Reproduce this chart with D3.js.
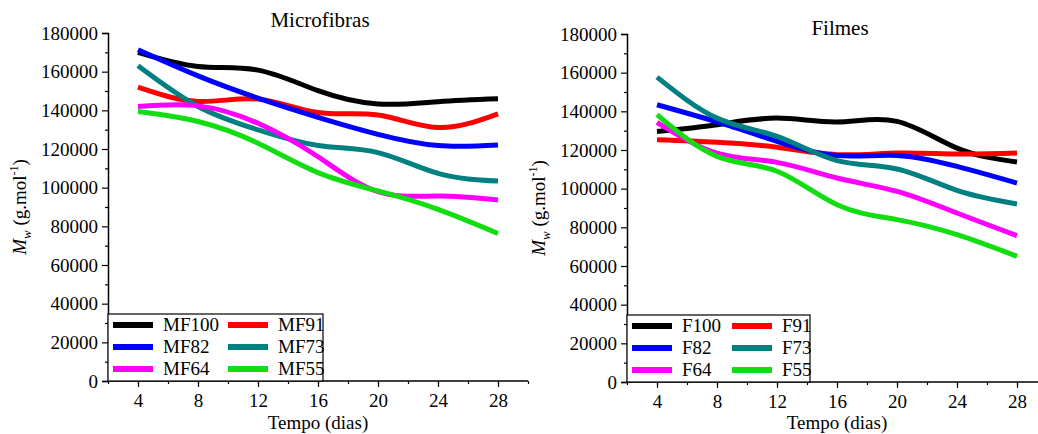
<!DOCTYPE html>
<html>
<head>
<meta charset="utf-8">
<script src="https://cdn.jsdelivr.net/npm/d3@7"></script>
<style>
  body { margin: 0; background: #fff; }
  svg text { font-family: "Liberation Serif", "DejaVu Serif", serif !important; fill: #000; }
</style>
</head>
<body>
<div id="chart"></div>
<script>
// days of measurement
const days = [4, 8, 12, 16, 20, 24, 28];
const xTicks = [4, 8, 12, 16, 20, 24, 28];
const yTicks = [0, 20000, 40000, 60000, 80000, 100000, 120000, 140000, 160000, 180000];

// Microfibras (Mw, g/mol)
const mfNames = ["MF100", "MF91", "MF82", "MF73", "MF64", "MF55"];
const mf100 = [170000, 162700, 160800, 150200, 143300, 144500, 146000];
const mf91  = [152000, 144600, 145800, 138900, 137600, 131100, 138200];
const mf82  = [171300, 157800, 146300, 136400, 127600, 121800, 122100];
const mf73  = [163000, 142000, 129900, 121800, 118100, 107400, 103400];
const mf64  = [142000, 142300, 133300, 116000, 97900, 95700, 93600];
const mf55  = [139400, 134200, 123000, 107800, 98300, 88800, 76300];

// Filmes (Mw, g/mol)
const fNames = ["F100", "F91", "F82", "F73", "F64", "F55"];
const f100 = [129600, 133100, 136500, 134500, 134800, 121000, 113800];
const f91  = [125300, 124000, 121400, 117600, 118400, 117900, 118400];
const f82  = [143400, 134500, 124500, 117100, 117200, 111500, 102900];
const f73  = [157700, 136500, 127000, 114500, 110200, 99100, 92100];
const f64  = [134300, 118400, 113600, 105500, 98600, 87400, 75700];
const f55  = [138300, 116700, 109000, 91700, 84000, 76200, 65000];

const colors = ["#000000", "#ff0000", "#0000ff", "#008080", "#ff00ff", "#11dd11"];

const svg = d3.select("#chart")
  .append("svg")
  .attr("width", 1038)
  .attr("height", 434)
  .attr("font-family", "Liberation Serif");

function drawPanel(p) {
  const x = d3.scaleLinear().domain([2, 30]).range([p.left, p.left + 420]);
  const y = d3.scaleLinear().domain([0, 180000]).range([p.bottom, p.top]);

  const g = svg.append("g");

  // curves
  const line = d3.line()
    .x(d => x(d[0]))
    .y(d => y(d[1]))
    .curve(d3.curveNatural);

  p.series.forEach((s, i) => {
    g.append("path")
      .datum(days.map((d, j) => [d, s[j]]))
      .attr("fill", "none")
      .attr("stroke", colors[i])
      .attr("stroke-width", 5)
      .attr("d", line);
  });

  // x axis
  const xAxis = g.append("g")
    .attr("transform", `translate(0, ${p.bottom})`)
    .call(d3.axisBottom(x).tickValues(xTicks).tickSize(6).tickPadding(5).tickFormat(d3.format("d")));
  g.append("g")
    .attr("transform", `translate(0, ${p.bottom})`)
    .call(d3.axisBottom(x).tickValues(d3.range(2, 31, 2)).tickSize(3).tickFormat(""))
    .select(".domain").remove();

  // y axis
  const yAxis = g.append("g")
    .attr("transform", `translate(${p.left}, 0)`)
    .call(d3.axisLeft(y).tickValues(yTicks).tickSize(6).tickPadding(4).tickFormat(d3.format("d")));
  g.append("g")
    .attr("transform", `translate(${p.left}, 0)`)
    .call(d3.axisLeft(y).tickValues(d3.range(10000, 180000, 20000)).tickSize(3).tickFormat(""))
    .select(".domain").remove();

  g.selectAll("g").attr("font-family", "Liberation Serif");
  g.selectAll(".domain").attr("stroke", "#000").attr("stroke-width", 1.5);
  g.selectAll(".tick line").attr("stroke", "#000").attr("stroke-width", 1.2);
  xAxis.selectAll("text").attr("font-size", 19).attr("dy", "0.8em");
  yAxis.selectAll("text").attr("font-size", 19);
  xAxis.select(".domain").attr("d", `M${p.left},0H${p.left + 420}`);

  // title
  g.append("text")
    .attr("x", p.titleX)
    .attr("y", p.titleY)
    .attr("text-anchor", "middle")
    .attr("font-size", 21)
    .text(p.title);

  // x label
  g.append("text")
    .attr("x", p.left + 210)
    .attr("y", 429)
    .attr("text-anchor", "middle")
    .attr("font-size", 19)
    .text("Tempo (dias)");

  // y label
  const yl = g.append("text")
    .attr("transform", `translate(${p.left - 82}, ${(p.top + p.bottom) / 2}) rotate(-90)`)
    .attr("text-anchor", "middle")
    .attr("font-size", 19);
  yl.append("tspan").attr("font-style", "italic").text("M");
  yl.append("tspan").attr("font-style", "italic").attr("font-size", 13).attr("dy", 5).text("w");
  yl.append("tspan").attr("dy", -5).text(" (g.mol");
  yl.append("tspan").attr("font-size", 12).attr("dy", -8).text("-1");
  yl.append("tspan").attr("dy", 8).text(")");

  // legend
  const lg = g.append("g");
  lg.append("rect")
    .attr("x", p.left)
    .attr("y", p.bottom - 67)
    .attr("width", p.legendW)
    .attr("height", 67)
    .attr("fill", "#fff")
    .attr("stroke", "#000")
    .attr("stroke-width", 1.2);

  p.names.forEach((n, i) => {
    const col = i % 2, row = Math.floor(i / 2);
    const lx = p.left + 5 + col * p.legendCol;
    const ly = p.bottom - 56 + row * 22;
    lg.append("line")
      .attr("x1", lx).attr("x2", lx + 40)
      .attr("y1", ly).attr("y2", ly)
      .attr("stroke", colors[i])
      .attr("stroke-width", 6);
    lg.append("text")
      .attr("x", lx + 50)
      .attr("y", ly + 6)
      .attr("font-size", 19)
      .text(n);
  });
}

drawPanel({
  left: 108, top: 33, bottom: 381,
  title: "Microfibras", titleX: 320, titleY: 27,
  series: [mf100, mf91, mf82, mf73, mf64, mf55],
  names: mfNames, legendW: 215, legendCol: 115
});

drawPanel({
  left: 627, top: 34, bottom: 382,
  title: "Filmes", titleX: 840, titleY: 35,
  series: [f100, f91, f82, f73, f64, f55],
  names: fNames, legendW: 183, legendCol: 100
});
</script>
</body>
</html>
